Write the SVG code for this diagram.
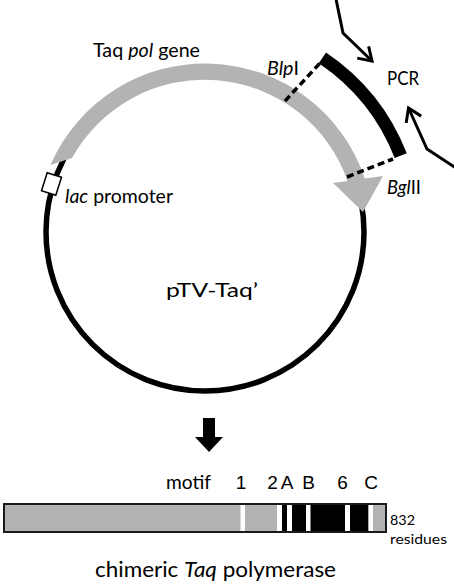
<svg xmlns="http://www.w3.org/2000/svg" width="454" height="587" viewBox="0 0 454 587">
<style>
.lbl{font-family:Lato,"Liberation Sans",sans-serif;font-size:18.4px;fill:#000}
.ari{font-family:"Liberation Sans",Arial,sans-serif;font-size:19px;fill:#000;text-anchor:middle}
.it{font-style:italic}
.dash{stroke:#000;stroke-width:3.5;stroke-dasharray:7 4;fill:none}
.pcr{stroke:#000;stroke-width:3;fill:none;stroke-linejoin:miter;marker-end:url(#vhead)}
.gray{fill:#b3b3b3}
</style>
<defs>
<marker id="vhead" markerUnits="userSpaceOnUse" orient="auto" refX="0" refY="0" markerWidth="30" markerHeight="30" overflow="visible">
<path d="M-12.6,-8.2 L0,0 L-12.6,8.2" fill="none" stroke="#000" stroke-width="3"/>
</marker>
</defs>
<rect width="454" height="587" fill="#fff"/>

<g id="plasmid">
<circle cx="205" cy="232" r="159" fill="none" stroke="#000" stroke-width="5.5"/>
</g>
<g id="taq-pol-gene">
<path class="gray" d="M50.4,165 A168.5,168.5 0 0 1 364.8,178.5 L383,176 L363,212 L333,183 L347.6,181 A151.5,151.5 0 0 0 72,158 Z"/>
</g>
<g id="lac-promoter">
<rect x="-7.5" y="-9.5" width="15" height="19" transform="translate(51.5,184) rotate(17.4)" fill="#fff" stroke="#000" stroke-width="1.5"/>
</g>
<g id="pcr-fragment">
<path d="M322.4,57.9 A210,210 0 0 1 400.7,155.7" fill="none" stroke="#000" stroke-width="13"/>
</g>

<g id="connectors">
<line class="dash" x1="285" y1="101" x2="321" y2="62"/>
<line class="dash" x1="347" y1="177" x2="393" y2="159"/>
<polyline class="pcr" points="336,-1 343,33 372,61"/>
<polyline class="pcr" points="456,168 427,149 408.5,108"/>
<polygon points="203,418 215,418 215,437 223,437 209,452 195,437 203,437" fill="#000"/>
</g>

<g id="labels">
<text class="lbl" x="93" y="57" textLength="107" lengthAdjust="spacingAndGlyphs">Taq <tspan class="it">pol</tspan> gene</text>
<text class="lbl" x="267" y="75" textLength="32" lengthAdjust="spacingAndGlyphs"><tspan class="it">Blp</tspan>I</text>
<text class="lbl" x="387" y="85" textLength="32" lengthAdjust="spacingAndGlyphs">PCR</text>
<text class="lbl" x="387" y="194" textLength="34" lengthAdjust="spacingAndGlyphs"><tspan class="it">Bgl</tspan>II</text>
<text class="lbl" x="65" y="203" textLength="108" lengthAdjust="spacingAndGlyphs"><tspan class="it">lac</tspan> promoter</text>
<text class="lbl" x="166" y="297" textLength="92" lengthAdjust="spacingAndGlyphs">pTV-Taq’</text>
</g>

<g id="polymerase">
<rect x="4" y="504" width="382" height="28" class="gray"/>
<rect x="240.5" y="504" width="4.5" height="28" fill="#fff"/>
<rect x="277" y="504" width="5" height="28" fill="#fff"/>
<rect x="282" y="504" width="86.5" height="28" fill="#000"/>
<rect x="287" y="504" width="5" height="28" fill="#fff"/>
<rect x="306" y="504" width="4.5" height="28" fill="#fff"/>
<rect x="345" y="504" width="5" height="28" fill="#fff"/>
<rect x="368.5" y="504" width="4.5" height="28" fill="#fff"/>
<rect x="4" y="504" width="382" height="28" fill="none" stroke="#1a1a1a" stroke-width="2"/>
<text class="lbl" x="166" y="489" textLength="45" lengthAdjust="spacingAndGlyphs">motif</text>
<text class="ari" x="241" y="489">1</text>
<text class="ari" x="272.5" y="489">2</text>
<text class="ari" x="287" y="489">A</text>
<text class="ari" x="308.5" y="489">B</text>
<text class="ari" x="342.5" y="489">6</text>
<text class="ari" x="371" y="489">C</text>
<text class="lbl" x="390" y="525" style="font-size:14px" textLength="25" lengthAdjust="spacingAndGlyphs">832</text>
<text class="lbl" x="390" y="544" style="font-size:14px" textLength="57" lengthAdjust="spacingAndGlyphs">residues</text>
<text class="lbl" x="95" y="577" style="font-size:21.3px" textLength="241" lengthAdjust="spacingAndGlyphs">chimeric <tspan class="it">Taq</tspan> polymerase</text>
</g>
</svg>
